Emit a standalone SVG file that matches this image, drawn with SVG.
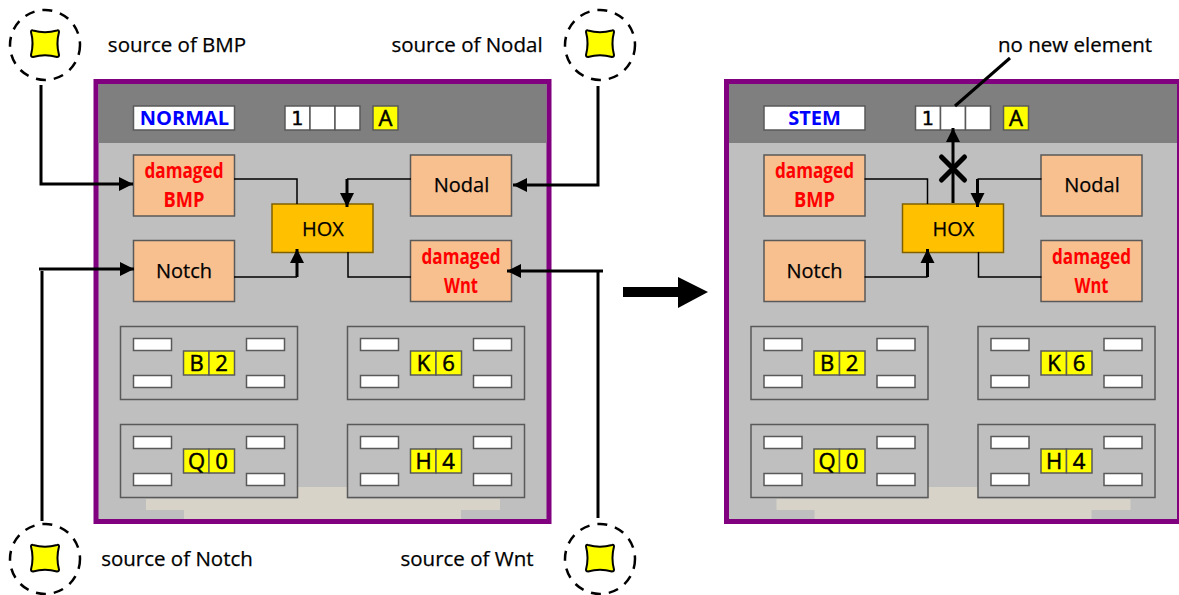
<svg xmlns="http://www.w3.org/2000/svg" xmlns:xlink="http://www.w3.org/1999/xlink" width="1179" height="595" viewBox="0 0 1179 595">
<style>
text{font-family:"Open Sans","Noto Sans","Liberation Sans",sans-serif;text-anchor:middle;fill:#000}
.lab{font-size:20.500px;stroke:#000;stroke-width:.25}
.node{font-size:20px;stroke:#000;stroke-width:.25}
.dmg{font-size:21px;font-weight:700;fill:#f00}
.title{font-size:20px;font-weight:700;fill:#00f}
.num{font-family:"DejaVu Sans Mono","Liberation Mono",monospace;font-size:20px;stroke:#000;stroke-width:.4}
.let{font-size:22px;stroke:#000;stroke-width:.5}
.frame{fill:#bfbfbf;stroke:#800080;stroke-width:5}
.head{fill:#7f7f7f}
.white{fill:#fff;stroke:#595959;stroke-width:1.5}
.yel{fill:#ff0;stroke:#595959;stroke-width:1.5}
.peach{fill:#f8bf8f;stroke:#595959;stroke-width:1.5}
.hox{fill:#ffc000;stroke:#7f6000;stroke-width:1.5}
.sub{fill:none;stroke:#595959;stroke-width:1.5}
.beige{fill:#d8d3c9}
.thin{fill:none;stroke:#000;stroke-width:1.5}
.thick{fill:none;stroke:#000;stroke-width:3}
.ring{fill:#fff;stroke:#000;stroke-width:2.5;stroke-dasharray:10 8}
.blob{fill:#ff0;stroke:#000;stroke-width:2}
</style>
<defs>
<marker id="ah" markerUnits="userSpaceOnUse" markerWidth="16" markerHeight="16" refX="14" refY="8" orient="auto"><path d="M0 1L14 8L0 15Z" fill="#000"/></marker>
<path id="blobp" d="M-12-13C-5-11 5-11 12-13C13.500-13.500 14-13 14-11.500C12-4 12 4 14 11.500C14 13 13.500 13.500 12 13.500C5 11.500-5 11.500-12 13.500C-13.500 13.500-14 13-14 11.500C-12 4-12-4-14-11.500C-14-13-13.500-13.500-12-13Z"/>
<g id="sub">
<rect class="sub" x="0" y="0" width="177" height="73"/>
<rect class="white" x="13" y="12" width="38" height="12"/><rect class="white" x="126" y="12" width="38" height="12"/>
<rect class="white" x="13" y="49" width="38" height="12"/><rect class="white" x="126" y="49" width="38" height="12"/>
<rect class="yel" x="63" y="24.500" width="25.500" height="24"/><rect class="yel" x="88.500" y="24.500" width="25.500" height="24"/>
</g>
<g id="panelbg">
<rect class="frame" x="96" y="81.500" width="453" height="440"/>
<rect class="head" x="98.500" y="84" width="448" height="59"/>
<path class="beige" d="M146 499H298V487H347V499H500V510H461V519H184V510H146Z"/>
<rect class="white" x="133.500" y="106" width="101" height="24"/>
<rect class="white" x="285" y="106" width="25" height="24"/><rect class="white" x="310" y="106" width="25" height="24"/><rect class="white" x="335" y="106" width="25" height="24"/>
<rect class="yel" x="373" y="106" width="25" height="24"/>
<rect class="peach" x="133.500" y="155" width="101" height="61"/>
<rect class="peach" x="410.500" y="155" width="101" height="61"/>
<rect class="peach" x="133.500" y="240.500" width="101" height="61"/>
<rect class="peach" x="410.500" y="240.500" width="101" height="61"/>
<rect class="hox" x="272" y="204" width="101" height="48.500"/>
<use xlink:href="#sub" x="120.500" y="326.500"/><use xlink:href="#sub" x="347.500" y="326.500"/>
<use xlink:href="#sub" x="120.500" y="424.500"/><use xlink:href="#sub" x="347.500" y="424.500"/>
</g>
</defs>

<g id="source-bmp"><circle class="ring" cx="45" cy="45" r="35"/><use class="blob" xlink:href="#blobp" x="45" y="43.500"/><text class="lab" x="177" y="52">source of BMP</text></g>
<g id="source-nodal"><circle class="ring" cx="600" cy="45" r="35"/><use class="blob" xlink:href="#blobp" x="600" y="43.500"/><text class="lab" x="467" y="52">source of Nodal</text></g>
<g id="source-notch"><circle class="ring" cx="45" cy="559" r="35"/><use class="blob" xlink:href="#blobp" x="45" y="558"/><text class="lab" x="177" y="566">source of Notch</text></g>
<g id="source-wnt"><circle class="ring" cx="600" cy="559" r="35"/><use class="blob" xlink:href="#blobp" x="600" y="558"/><text class="lab" x="467" y="566">source of Wnt</text></g>

<g id="panel-normal">
<use xlink:href="#panelbg"/>
</g>
<g id="panel-stem" transform="translate(630.500 0)">
<use xlink:href="#panelbg"/>
</g>

<g id="connectors">
<path class="thick" marker-end="url(#ah)" d="M41 85V184H133"/>
<path class="thick" marker-end="url(#ah)" d="M39 269H134"/>
<path class="thick" d="M42 271V521"/>
<path class="thick" marker-end="url(#ah)" d="M598 86V185H513"/>
<path class="thick" marker-end="url(#ah)" d="M603 271H507"/>
<path class="thick" d="M598 272V518"/>
<g id="conn-normal">
<path class="thin" d="M234 179H297V204"/><path class="thin" d="M411 179H347"/><path class="thick" marker-end="url(#ah)" d="M347 179V207"/>
<path class="thin" d="M234 277H297"/><path class="thick" marker-end="url(#ah)" d="M297 277V249"/><path class="thin" d="M411 277H348V252"/>
</g>
<g id="conn-stem" transform="translate(630.500 0)">
<path class="thin" d="M234 179H297V204"/><path class="thin" d="M411 179H347"/><path class="thick" marker-end="url(#ah)" d="M347 179V207"/>
<path class="thin" d="M234 277H297"/><path class="thick" marker-end="url(#ah)" d="M297 277V249"/><path class="thin" d="M411 277H348V252"/>
<path class="thick" marker-end="url(#ah)" d="M322.500 203V128"/>
<path d="M311 157L334 180M334 157L311 180" fill="none" stroke="#000" stroke-width="5" stroke-linecap="round"/>
</g>
<path class="thick" d="M1010 58L955 106"/>
<path d="M623 287H678V277L708 292L678 308V297H623Z" fill="#000"/>
</g>

<g id="texts-normal">
<text class="title" x="184.500" y="125">NORMAL</text>
<text class="num" x="297" y="125">1</text><text class="let" x="385.500" y="126">A</text>
<text class="dmg" x="184" y="178" textLength="79" lengthAdjust="spacingAndGlyphs">damaged</text><text class="dmg" x="184" y="207" textLength="41" lengthAdjust="spacingAndGlyphs">BMP</text>
<text class="node" x="461.500" y="192">Nodal</text><text class="node" x="184" y="278">Notch</text>
<text class="dmg" x="461" y="264" textLength="79" lengthAdjust="spacingAndGlyphs">damaged</text><text class="dmg" x="461" y="293" textLength="34" lengthAdjust="spacingAndGlyphs">Wnt</text>
<text class="node" x="323" y="236">HOX</text>
<text class="let" x="196.500" y="371">B</text><text class="let" x="221.500" y="371">2</text>
<text class="let" x="423.500" y="371">K</text><text class="let" x="448.500" y="371">6</text>
<text class="let" x="196.500" y="469">Q</text><text class="let" x="221.500" y="469">0</text>
<text class="let" x="423.500" y="469">H</text><text class="let" x="448.500" y="469">4</text>
</g>
<g id="texts-stem" transform="translate(630.500 0)">
<text class="title" x="184" y="125">STEM</text>
<text class="num" x="297" y="125">1</text><text class="let" x="385.500" y="126">A</text>
<text class="dmg" x="184" y="178" textLength="79" lengthAdjust="spacingAndGlyphs">damaged</text><text class="dmg" x="184" y="207" textLength="41" lengthAdjust="spacingAndGlyphs">BMP</text>
<text class="node" x="461.500" y="192">Nodal</text><text class="node" x="184" y="278">Notch</text>
<text class="dmg" x="461" y="264" textLength="79" lengthAdjust="spacingAndGlyphs">damaged</text><text class="dmg" x="461" y="293" textLength="34" lengthAdjust="spacingAndGlyphs">Wnt</text>
<text class="node" x="323" y="236">HOX</text>
<text class="let" x="196.500" y="371">B</text><text class="let" x="221.500" y="371">2</text>
<text class="let" x="423.500" y="371">K</text><text class="let" x="448.500" y="371">6</text>
<text class="let" x="196.500" y="469">Q</text><text class="let" x="221.500" y="469">0</text>
<text class="let" x="423.500" y="469">H</text><text class="let" x="448.500" y="469">4</text>
</g>
<text class="lab" x="1075" y="52">no new element</text>
</svg>
